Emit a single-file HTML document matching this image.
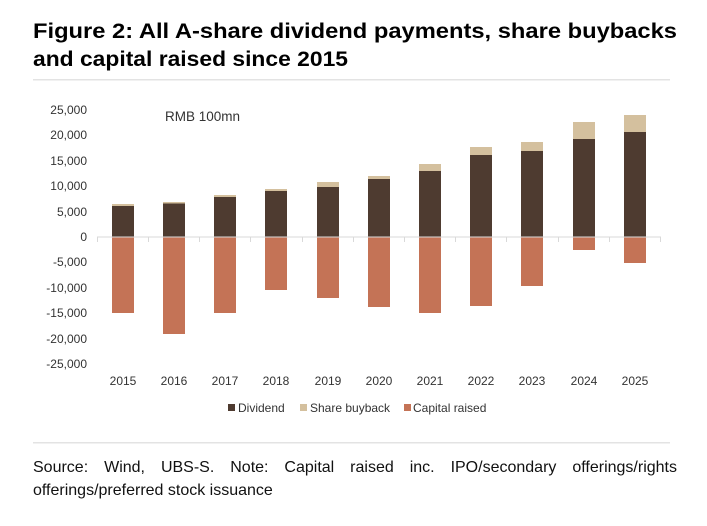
<!DOCTYPE html>
<html><head><meta charset="utf-8"><style>
html,body{margin:0;padding:0;background:#fff;}
svg{display:block;font-family:"Liberation Sans",sans-serif;}
.src{position:absolute;left:33px;top:456px;width:644px;font-family:"Liberation Sans",sans-serif;font-size:16px;line-height:23px;color:#111;text-align:justify;margin:0;}
.src span{display:block;text-align:justify;text-align-last:justify;}
</style></head><body>
<svg width="707" height="526" viewBox="0 0 707 526" xmlns="http://www.w3.org/2000/svg">
<text x="33" y="38" font-size="21" font-weight="bold" fill="#000" textLength="644" lengthAdjust="spacingAndGlyphs">Figure 2: All A-share dividend payments, share buybacks</text>
<text x="33" y="66" font-size="21" font-weight="bold" fill="#000" textLength="315" lengthAdjust="spacingAndGlyphs">and capital raised since 2015</text>
<rect x="33" y="79" width="637" height="1.5" fill="#e3e3e3"/>
<text x="165" y="121" font-size="13.5" fill="#333">RMB 100mn</text>
<g font-size="12" fill="#333" text-anchor="end">
<text x="87" y="114">25,000</text>
<text x="87" y="139">20,000</text>
<text x="87" y="165">15,000</text>
<text x="87" y="190">10,000</text>
<text x="87" y="216">5,000</text>
<text x="87" y="241">0</text>
<text x="87" y="266">-5,000</text>
<text x="87" y="292">-10,000</text>
<text x="87" y="317">-15,000</text>
<text x="87" y="343">-20,000</text>
<text x="87" y="368">-25,000</text>
</g>
<g>
<rect x="112" y="206" width="22" height="31" fill="#4e3b30"/><rect x="112" y="204" width="22" height="2" fill="#d4c09e"/><rect x="112" y="237" width="22" height="76" fill="#c47356"/>
<rect x="163" y="203" width="22" height="34" fill="#4e3b30"/><rect x="163" y="202" width="22" height="1.5" fill="#d4c09e"/><rect x="163" y="237" width="22" height="97" fill="#c47356"/>
<rect x="214" y="197" width="22" height="40" fill="#4e3b30"/><rect x="214" y="195" width="22" height="2" fill="#d4c09e"/><rect x="214" y="237" width="22" height="76" fill="#c47356"/>
<rect x="265" y="191" width="22" height="46" fill="#4e3b30"/><rect x="265" y="189" width="22" height="2" fill="#d4c09e"/><rect x="265" y="237" width="22" height="53" fill="#c47356"/>
<rect x="317" y="187" width="22" height="50" fill="#4e3b30"/><rect x="317" y="182" width="22" height="5" fill="#d4c09e"/><rect x="317" y="237" width="22" height="61" fill="#c47356"/>
<rect x="368" y="179" width="22" height="58" fill="#4e3b30"/><rect x="368" y="176" width="22" height="3" fill="#d4c09e"/><rect x="368" y="237" width="22" height="70" fill="#c47356"/>
<rect x="419" y="171" width="22" height="66" fill="#4e3b30"/><rect x="419" y="164" width="22" height="7" fill="#d4c09e"/><rect x="419" y="237" width="22" height="76" fill="#c47356"/>
<rect x="470" y="155" width="22" height="82" fill="#4e3b30"/><rect x="470" y="147" width="22" height="8" fill="#d4c09e"/><rect x="470" y="237" width="22" height="69" fill="#c47356"/>
<rect x="521" y="151" width="22" height="86" fill="#4e3b30"/><rect x="521" y="142" width="22" height="9" fill="#d4c09e"/><rect x="521" y="237" width="22" height="49" fill="#c47356"/>
<rect x="573" y="139" width="22" height="98" fill="#4e3b30"/><rect x="573" y="122" width="22" height="17" fill="#d4c09e"/><rect x="573" y="237" width="22" height="13" fill="#c47356"/>
<rect x="624" y="132" width="22" height="105" fill="#4e3b30"/><rect x="624" y="115" width="22" height="17" fill="#d4c09e"/><rect x="624" y="237" width="22" height="26" fill="#c47356"/>
</g>
<rect x="97" y="236.5" width="564" height="1" fill="#d9d9d9"/>
<g stroke="#d9d9d9" stroke-width="1">
<line x1="97.5" y1="237" x2="97.5" y2="242"/><line x1="148.5" y1="237" x2="148.5" y2="242"/><line x1="199.5" y1="237" x2="199.5" y2="242"/><line x1="250.5" y1="237" x2="250.5" y2="242"/><line x1="302.5" y1="237" x2="302.5" y2="242"/><line x1="353.5" y1="237" x2="353.5" y2="242"/><line x1="404.5" y1="237" x2="404.5" y2="242"/><line x1="455.5" y1="237" x2="455.5" y2="242"/><line x1="506.5" y1="237" x2="506.5" y2="242"/><line x1="558.5" y1="237" x2="558.5" y2="242"/><line x1="609.5" y1="237" x2="609.5" y2="242"/><line x1="660.5" y1="237" x2="660.5" y2="242"/>
</g>
<g font-size="12" fill="#333" text-anchor="middle">
<text x="123" y="385">2015</text><text x="174" y="385">2016</text><text x="225" y="385">2017</text><text x="276" y="385">2018</text><text x="328" y="385">2019</text><text x="379" y="385">2020</text><text x="430" y="385">2021</text><text x="481" y="385">2022</text><text x="532" y="385">2023</text><text x="584" y="385">2024</text><text x="635" y="385">2025</text>
</g>
<g font-size="12" fill="#333">
<rect x="228" y="404" width="7" height="7" fill="#4e3b30"/><text x="238" y="412">Dividend</text>
<rect x="300" y="404" width="7" height="7" fill="#d4c09e"/><text x="310" y="412">Share buyback</text>
<rect x="404" y="404" width="7" height="7" fill="#c47356"/><text x="413" y="412">Capital raised</text>
</g>
<rect x="33" y="442" width="637" height="1.5" fill="#e3e3e3"/>
</svg>
<div class="src"><span>Source: Wind, UBS-S. Note: Capital raised inc. IPO/secondary offerings/rights</span>offerings/preferred stock issuance</div>
</body></html>
